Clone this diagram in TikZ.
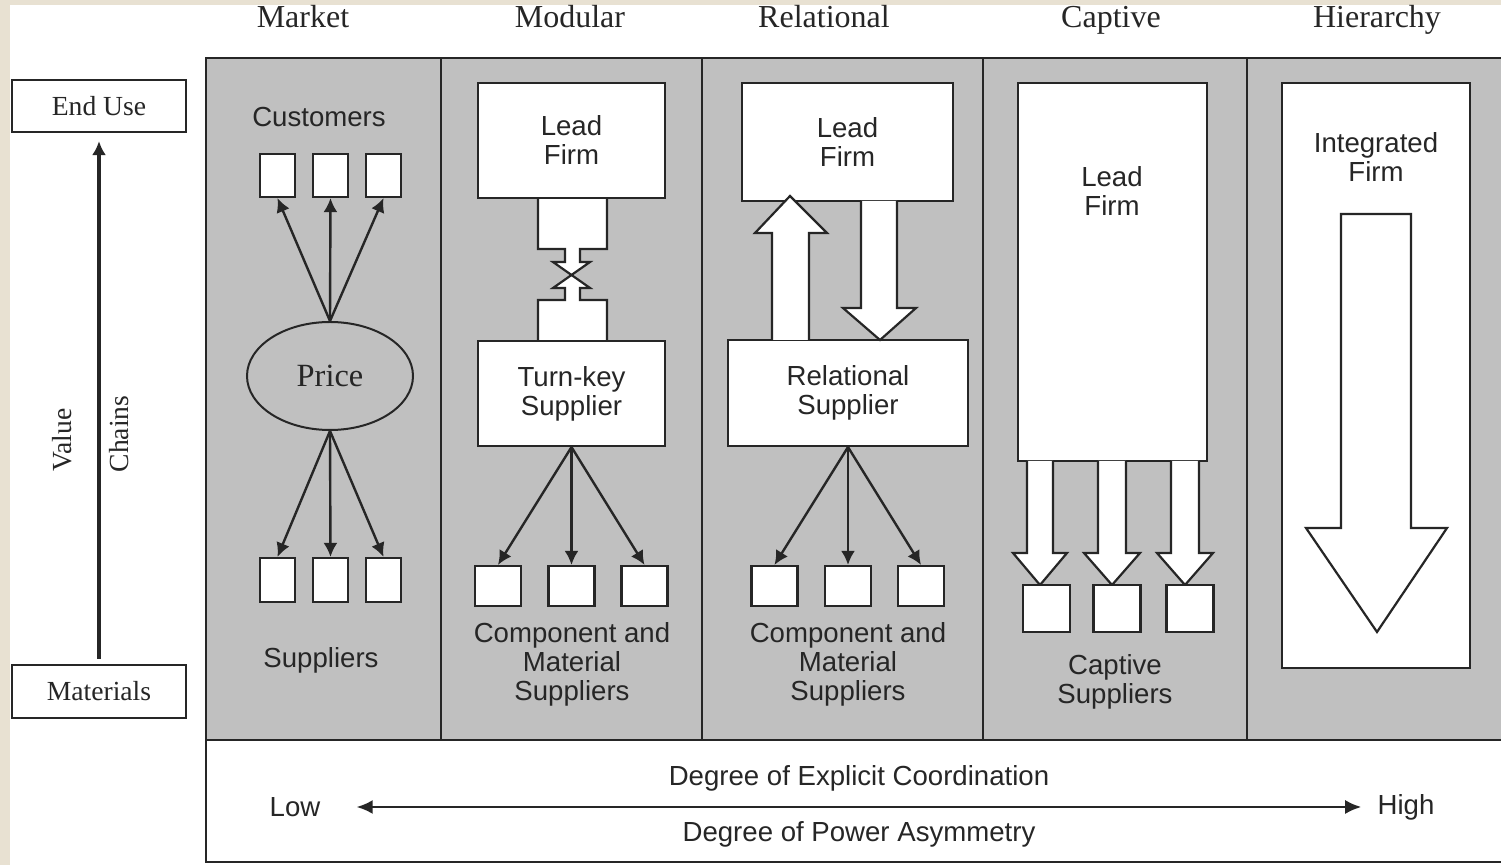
\documentclass[tikz,border=0pt]{standalone}
\usepackage{fontspec}
\setmainfont{Liberation Serif}
\setsansfont{Liberation Sans}
\usetikzlibrary{shapes.geometric,arrows.meta}
\definecolor{panelgray}{RGB}{192,192,192}
\definecolor{edge}{RGB}{38,38,38}
\definecolor{slide}{RGB}{232,225,210}
\begin{document}
\begin{tikzpicture}[x=0.5pt,y=-0.5pt]
            \tikzstyle{box}=[draw=edge,line width=1.1pt,fill=white,inner sep=0pt]
            \tikzstyle{sans}=[font=\sffamily\fontsize{13.8}{14.5}\selectfont,text=black!85,align=center,inner sep=0pt]
            \tikzstyle{serif}=[font=\rmfamily\fontsize{13.8}{14.5}\selectfont,text=black!85,align=center,inner sep=0pt]
            \tikzstyle{head}=[font=\rmfamily\fontsize{16}{18}\selectfont,text=black!85,inner sep=0pt,text height=11pt,text depth=0pt]
            \tikzstyle{link}=[draw=edge,line width=1.2pt,-{Latex[length=7pt,width=7pt]}]
            \tikzstyle{block}=[draw=edge,line width=1.1pt,fill=white,line join=miter]
    \useasboundingbox (0,0) rectangle (1501,865);
    \fill[white] (0,0) rectangle (1501,865);
    \fill[slide] (0,0) rectangle (1501,5);
    \fill[slide] (0,0) rectangle (10,865);
    \fill[panelgray] (206,58) rectangle (1503,740);
    \draw[edge,line width=1.1pt] (1503,58) -- (206,58) -- (206,862) -- (1503,862);
    \draw[edge,line width=1.1pt] (206,740) -- (1503,740);
    \foreach \x in {441,702,983,1247}
      \draw[edge,line width=1.3pt] (\x,58) -- (\x,740);
    \node[head] (market) at (303,17) {Market};
    \node[head] (modular) at (570,17) {Modular};
    \node[head] (relational) at (824,17) {Relational};
    \node[head] (captive) at (1111,17) {Captive};
    \node[head] (hierarchy) at (1377,17) {Hierarchy};
    \node[box,serif,minimum width=87pt,minimum height=26pt] (enduse) at (99,106) {End Use};
    \node[box,serif,minimum width=87pt,minimum height=26.5pt] (materials) at (99,691.5) {Materials};
    \draw[edge,line width=1.6pt,-{Latex[length=7pt,width=7pt]},shorten <=2.5pt,shorten >=4pt] (materials.north) -- (enduse.south);
    \node[serif,rotate=90] (value) at (62,440) {Value};
    \node[serif,rotate=90] (chains) at (119,434) {Chains};
    \node[sans] (customers) at (319,117) {Customers};
    \foreach \x [count=\i] in {277.5,330.5,383.5} {
      \node[box,minimum width=17.5pt,minimum height=21.5pt] (cust\i) at (\x,175.5) {};
      \node[box,minimum width=17.5pt,minimum height=22pt] (supp\i) at (\x,580) {};
    }
    \node[ellipse,draw=edge,line width=1pt,inner sep=0pt,minimum width=83pt,minimum height=54pt,
      font=\rmfamily\fontsize{16.2}{18}\selectfont,text=black!85] (price) at (330,376) {Price};
    \foreach \i in {1,2,3} {
      \draw[link] (price.north) -- (cust\i.south);
      \draw[link] (price.south) -- (supp\i.north);
    }
    \node[sans] (suppliers) at (321,660) {Suppliers};
    \fill[white] (538,190) -- (538,249) -- (565,249) -- (565,262) -- (553,262) -- (572,275) -- (590,262)
      -- (580,262) -- (580,249) -- (607,249) -- (607,190) -- cycle;
    \fill[white] (538,350) -- (538,300) -- (565,300) -- (565,288) -- (553,288) -- (572,275) -- (590,288)
      -- (580,288) -- (580,300) -- (607,300) -- (607,350) -- cycle;
    \draw[edge,line width=1.1pt] (538,190) -- (538,249) -- (565,249) -- (565,262) -- (553,262) -- (590,288)
      -- (580,288) -- (580,300) -- (607,300) -- (607,350);
    \draw[edge,line width=1.1pt] (607,190) -- (607,249) -- (580,249) -- (580,262) -- (590,262) -- (553,288)
      -- (565,288) -- (565,300) -- (538,300) -- (538,350);
    \node[box,sans,minimum width=93.5pt,minimum height=57.5pt] (mlead) at (571.5,140.5) {Lead\\Firm};
    \node[box,sans,minimum width=93.5pt,minimum height=52.5pt] (mturn) at (571.5,393.5) {Turn-key\\Supplier};
    \foreach \x [count=\i] in {498,571.5,644.5} {
      \node[box,minimum width=23pt,minimum height=20pt] (mcomp\i) at (\x,586) {};
      \draw[link] (mturn.south) -- (mcomp\i.north);
    }
    \node[sans] (mtext) at (572,664) {Component and\\Material\\Suppliers};
    \node[box,sans,minimum width=105.5pt,minimum height=59pt] (rlead) at (847.5,142) {Lead\\Firm};
    \node[box,sans,minimum width=120pt,minimum height=53pt] (rsupp) at (848,393) {Relational\\Supplier};
    \path[block] (772,340) -- (772,233) -- (755,233) -- (790,196) -- (827,233) -- (809,233) -- (809,340);
    \path[block] (861,201) -- (861,308) -- (843,308) -- (880,340) -- (916,308) -- (897,308) -- (897,201);
    \foreach \x [count=\i] in {774.5,848,921} {
      \node[box,minimum width=23pt,minimum height=20pt] (rcomp\i) at (\x,586) {};
      \draw[link] (rsupp.south) -- (rcomp\i.north);
    }
    \node[sans] (rtext) at (848,664) {Component and\\Material\\Suppliers};
    \node[box,minimum width=94.5pt,minimum height=189pt] (clead) at (1112.5,272) {};
    \node[sans] (cleadtext) at (1112,191) {Lead\\Firm};
    \foreach \l/\r/\m in {1027/1053/1040,1098/1126/1112,1171/1199/1185}
      \path[block] (\l,461) -- (\l,553) -- (\l-14,553) -- (\m,585) -- (\r+14,553) -- (\r,553) -- (\r,461);
    \foreach \x [count=\i] in {1046.5,1117,1190} {
      \node[box,minimum width=23.5pt,minimum height=23.5pt] (csupp\i) at (\x,608.5) {};
    }
    \node[sans] (ctext) at (1115,682) {Captive\\Suppliers};
    \node[box,minimum width=94pt,minimum height=292.5pt] (hfirm) at (1376,375.5) {};
    \node[sans] (hfirmtext) at (1376,157) {Integrated\\Firm};
    \path[block] (1341,214) -- (1341,528) -- (1306,528) -- (1377,632) -- (1447,528) -- (1411,528) -- (1411,214) -- cycle;
    \node[sans] (coord) at (859,778) {Degree of Explicit Coordination};
    \node[sans] (power) at (859,834) {Degree of Power Asymmetry};
    \node[sans] (low) at (295,807) {Low};
    \node[sans] (high) at (1406,807) {High};
    \draw[edge,line width=1.1pt,{Latex[length=8pt,width=7pt]}-{Latex[length=8pt,width=7pt]},
      shorten <=18pt,shorten >=8pt] (low.east) -- (high.west);
\end{tikzpicture}
\end{document}
